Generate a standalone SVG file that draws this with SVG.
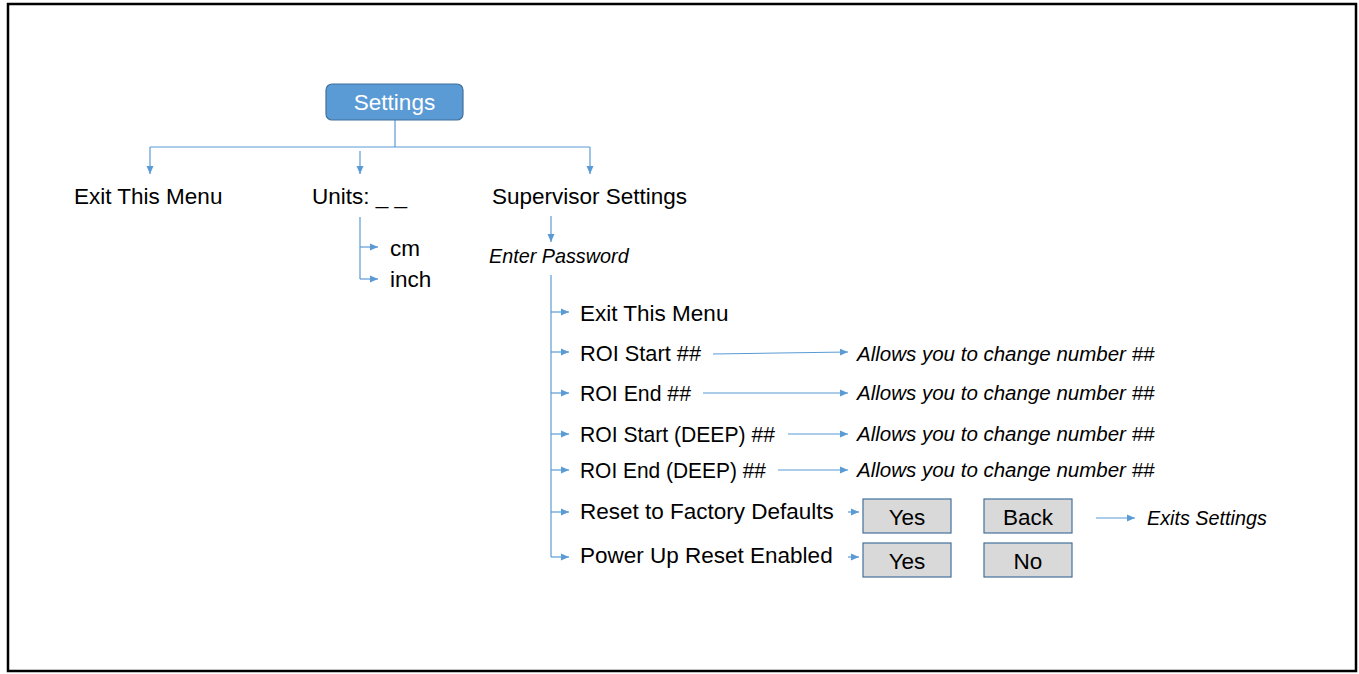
<svg xmlns="http://www.w3.org/2000/svg" width="1359" height="674" viewBox="0 0 1359 674">
<style>
.t{font-family:"Liberation Sans",Arial,sans-serif;font-size:22.5px;fill:#000}
.i{font-family:"Liberation Sans",Arial,sans-serif;font-style:italic;fill:#000}
.c{stroke:#5b9bd5;stroke-width:1.2;fill:none}
.a{marker-end:url(#ah)}
.btn{fill:#d9d9d9;stroke:#41719c;stroke-width:1.2}
</style>
<defs>
<marker id="ah" markerUnits="userSpaceOnUse" markerWidth="9" markerHeight="8" refX="8" refY="4" orient="auto">
<path d="M0,0.5 L8,4 L0,7.5 z" fill="#5b9bd5"/>
</marker>
</defs>
<rect x="8" y="4" width="1348" height="667" fill="#fff" stroke="#000" stroke-width="2.5"/>

<g id="connectors">
<path class="c" d="M395,120 V147 M150,147 H590"/>
<path class="c a" d="M150,147 V174"/>
<path class="c a" d="M360,151 V174"/>
<path class="c a" d="M590,147 V174"/>
<path class="c" d="M360,217 V279"/>
<path class="c a" d="M360,247 H378"/>
<path class="c a" d="M360,279 H378"/>
<path class="c a" d="M551,216 V242"/>
<path class="c" d="M551,275 V557"/>
<path class="c a" d="M551,312 H569"/>
<path class="c a" d="M551,352 H569"/>
<path class="c a" d="M551,393 H569"/>
<path class="c a" d="M551,434 H569"/>
<path class="c a" d="M551,470 H569"/>
<path class="c a" d="M551,512 H569"/>
<path class="c a" d="M551,557 H569"/>
<path class="c a" d="M713,354 L848,352"/>
<path class="c a" d="M703,393 H848"/>
<path class="c a" d="M788,434 H848"/>
<path class="c a" d="M778,470 H848"/>
<path class="c a" d="M848,512 H859"/>
<path class="c a" d="M848,557 H859"/>
<path class="c a" d="M1096,518 H1135"/>
</g>

<g id="settings">
<rect x="326" y="84" width="137" height="36" rx="6" fill="#5b9bd5" stroke="#41719c" stroke-width="1.2"/>
<text class="t" x="394.5" y="110" text-anchor="middle" style="fill:#fff">Settings</text>
</g>
<g id="exit-top"><text class="t" x="74" y="204">Exit This Menu</text></g>
<g id="units"><text class="t" x="312" y="204">Units: _ _</text></g>
<g id="cm"><text class="t" x="390" y="256">cm</text></g>
<g id="inch"><text class="t" x="390" y="287">inch</text></g>
<g id="supervisor"><text class="t" x="492" y="204">Supervisor Settings</text></g>
<g id="password"><text class="i" x="489" y="263" font-size="19.8">Enter Password</text></g>
<g id="exit-sub"><text class="t" x="580" y="321">Exit This Menu</text></g>
<g id="roi-start"><text class="t" x="580" y="361" textLength="121" lengthAdjust="spacingAndGlyphs">ROI Start ##</text></g>
<g id="roi-end"><text class="t" x="580" y="401" textLength="111" lengthAdjust="spacingAndGlyphs">ROI End ##</text></g>
<g id="roi-start-deep"><text class="t" x="580" y="442" textLength="195" lengthAdjust="spacingAndGlyphs">ROI Start (DEEP) ##</text></g>
<g id="roi-end-deep"><text class="t" x="580" y="478" textLength="186" lengthAdjust="spacingAndGlyphs">ROI End (DEEP) ##</text></g>
<g id="reset"><text class="t" x="580" y="519">Reset to Factory Defaults</text></g>
<g id="powerup"><text class="t" x="580" y="563">Power Up Reset Enabled</text></g>
<g id="allows1"><text class="i" x="857" y="361" font-size="20.5">Allows you to change number ##</text></g>
<g id="allows2"><text class="i" x="857" y="400" font-size="20.5">Allows you to change number ##</text></g>
<g id="allows3"><text class="i" x="857" y="441" font-size="20.5">Allows you to change number ##</text></g>
<g id="allows4"><text class="i" x="857" y="477" font-size="20.5">Allows you to change number ##</text></g>
<g id="yes1"><rect class="btn" x="863" y="499" width="88" height="34"/><text class="t" x="907" y="525" text-anchor="middle">Yes</text></g>
<g id="back"><rect class="btn" x="984" y="499" width="88" height="34"/><text class="t" x="1028" y="525" text-anchor="middle">Back</text></g>
<g id="yes2"><rect class="btn" x="863" y="543" width="88" height="34"/><text class="t" x="907" y="569" text-anchor="middle">Yes</text></g>
<g id="no"><rect class="btn" x="984" y="543" width="88" height="34"/><text class="t" x="1028" y="569" text-anchor="middle">No</text></g>
<g id="exits"><text class="i" x="1147" y="525" font-size="19.8">Exits Settings</text></g>
</svg>
